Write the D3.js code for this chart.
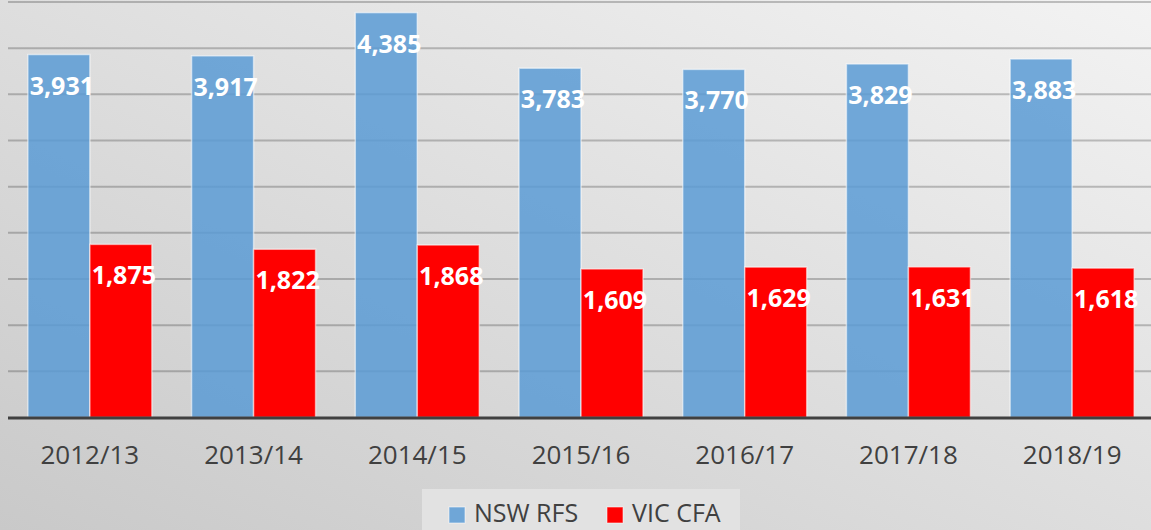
<!DOCTYPE html>
<html>

<head>
    <style>
        body {
            margin: 0;
            background: #d8d8d8;
            font-family: 'Open Sans', sans-serif;
        }

        .grid line {
            stroke: rgba(0, 0, 0, 0.22);
            stroke-width: 2px;
        }

        .bar-label {
            fill: #ffffff;
            font-weight: bold;
            font-size: 25px;
        }

        .x-label,
        .legend text {
            fill: #404040;
            font-size: 26px;
        }

        .legend text {
            font-size: 25px;
        }
    </style>
</head>

<body>
    <div id="chart"></div>
    <script src="https://cdnjs.cloudflare.com/ajax/libs/d3/7.8.5/d3.min.js"></script>
    <script>
        // chart data
        const years = ["2012/13", "2013/14", "2014/15", "2015/16", "2016/17", "2017/18", "2018/19"];
        const seriesNames = ["NSW RFS", "VIC CFA"];
        const nswValues = [3931, 3917, 4385, 3783, 3770, 3829, 3883];
        const vicValues = [1875, 1822, 1868, 1609, 1629, 1631, 1618];
        const gridTicks = [0, 500, 1000, 1500, 2000, 2500, 3000, 3500, 4000, 4500];

        const width = 1151;
        const height = 530;
        const colors = ["#5b9bd5", "#ff0000"];

        const svg = d3.select("#chart")
            .append("svg")
            .attr("width", width)
            .attr("height", height);

        // background gradient, lighter at the top right
        const defs = svg.append("defs");
        const grad = defs.append("linearGradient")
            .attr("id", "bg")
            .attr("x1", "0%").attr("y1", "100%")
            .attr("x2", "100%").attr("y2", "0%");
        grad.append("stop").attr("offset", "0%").attr("stop-color", "#c9c9c9");
        grad.append("stop").attr("offset", "100%").attr("stop-color", "#f3f3f3");

        svg.append("rect")
            .attr("width", width)
            .attr("height", height)
            .attr("fill", "url(#bg)");

        const x = d3.scaleBand()
            .domain(years)
            .range([8, 1154])
            .paddingInner(0.2425)
            .paddingOuter(0.12125);

        const xSeries = d3.scaleBand()
            .domain(seriesNames)
            .range([0, x.bandwidth()]);

        const y = d3.scaleLinear()
            .domain([0, 4500])
            .range([417.5, 2]);

        // gridlines
        svg.append("g")
            .attr("class", "grid")
            .selectAll("line")
            .data(gridTicks.slice(1))
            .enter()
            .append("line")
            .attr("x1", 8)
            .attr("x2", width)
            .attr("y1", d => y(d))
            .attr("y2", d => y(d));

        const rows = years.map((yr, i) => ({
            year: yr,
            values: [
                { name: seriesNames[0], value: nswValues[i] },
                { name: seriesNames[1], value: vicValues[i] }
            ]
        }));

        const groups = svg.selectAll("g.year")
            .data(rows)
            .enter()
            .append("g")
            .attr("class", "year")
            .attr("transform", d => `translate(${x(d.year)},0)`);

        groups.selectAll("rect")
            .data(d => d.values)
            .enter()
            .append("rect")
            .attr("x", d => xSeries(d.name))
            .attr("y", d => y(d.value))
            .attr("width", xSeries.bandwidth())
            .attr("height", d => y(0) - y(d.value))
            .attr("fill", (d, i) => colors[i])
            .attr("fill-opacity", (d, i) => i === 0 ? 0.85 : 1)
            .attr("stroke", "rgba(255,255,255,0.55)")
            .attr("stroke-width", 1.5);

        groups.selectAll("text")
            .data(d => d.values)
            .enter()
            .append("text")
            .attr("class", "bar-label")
            .attr("x", d => xSeries(d.name) + xSeries.bandwidth() / 2 + 3)
            .attr("y", d => y(d.value) + 40)
            .attr("text-anchor", "middle")
            .text(d => d3.format(",")(d.value));

        // baseline
        svg.append("line")
            .attr("x1", 8)
            .attr("x2", width)
            .attr("y1", y(0) + 0.5)
            .attr("y2", y(0) + 0.5)
            .attr("stroke", "#404040")
            .attr("stroke-width", 3);

        // category labels
        svg.selectAll("text.x-label")
            .data(years)
            .enter()
            .append("text")
            .attr("class", "x-label")
            .attr("x", d => x(d) + x.bandwidth() / 2)
            .attr("y", 464)
            .attr("text-anchor", "middle")
            .text(d => d);

        // legend
        const legend = svg.append("g").attr("class", "legend");
        legend.append("rect")
            .attr("x", 422)
            .attr("y", 489)
            .attr("width", 318)
            .attr("height", 41)
            .attr("fill", "#e2e2e2");

        const legendX = [449, 607];
        seriesNames.forEach((name, i) => {
            legend.append("rect")
                .attr("x", legendX[i])
                .attr("y", 507)
                .attr("width", 16)
                .attr("height", 16)
                .attr("fill", colors[i])
                .attr("fill-opacity", i === 0 ? 0.85 : 1)
                .attr("stroke", "rgba(255,255,255,0.55)")
                .attr("stroke-width", 1);
            legend.append("text")
                .attr("x", legendX[i] + 25)
                .attr("y", 522)
                .text(name);
        });
    </script>
</body>

</html>
